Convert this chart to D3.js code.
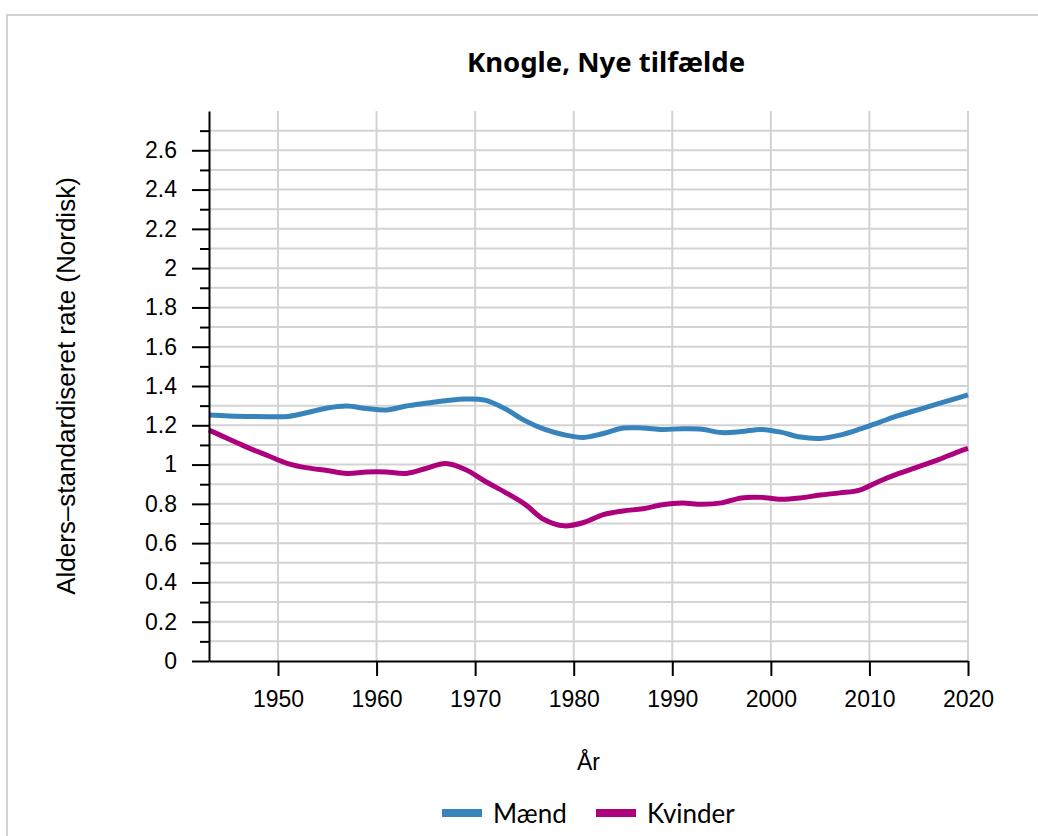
<!DOCTYPE html>
<head>
  <meta charset="utf-8">
  <script src="https://d3js.org/d3.v7.min.js"></script>
  <style>
    body { margin:0; background:#fff; }
    .grid line { stroke:#d3d3d3; stroke-width:2px; }
    .axis path, .axis line { stroke:#000; stroke-width:2px; }
    .axis text { font-family:"Liberation Sans", Arial, sans-serif; font-size:23px; fill:#000; }
    .line { fill:none; stroke-width:5px; }
  </style>
</head>
<body>
<script>

  // data
  var years = [1943,1945,1947,1949,1951,1953,1955,1957,1959,1961,1963,1965,1967,1969,1971,1973,1975,1977,1979,1981,
               1983,1985,1987,1989,1991,1993,1995,1997,1999,2001,2003,2005,2007,2009,2011,2013,2015,2017,2019,2020];
  var maend = [1.252,1.247,1.245,1.244,1.245,1.265,1.288,1.298,1.285,1.278,1.298,1.312,1.325,1.334,1.328,1.285,1.225,1.180,1.152,1.138,
               1.158,1.186,1.186,1.179,1.182,1.180,1.163,1.168,1.179,1.165,1.140,1.133,1.150,1.180,1.215,1.250,1.280,1.310,1.340,1.355];
  var kvinder = [1.176,1.130,1.085,1.045,1.005,0.983,0.970,0.955,0.962,0.962,0.955,0.980,1.005,0.975,0.915,0.860,0.800,0.720,0.688,0.705,
                 0.745,0.764,0.775,0.795,0.804,0.798,0.805,0.830,0.833,0.823,0.830,0.845,0.856,0.870,0.915,0.955,0.990,1.025,1.065,1.082];
  var seriesNames = ["Mænd", "Kvinder"];
  var colors = ["#3784bc", "#ac007d"];
  var xTicks = [1950,1960,1970,1980,1990,2000,2010,2020];
  var title = "Knogle, Nye tilfælde";
  var xLabel = "År";
  var yLabel = "Alders–standardiseret rate (Nordisk)";

  var W = 1038, H = 836;
  var margin = {top: 111, right: 70, bottom: 175, left: 209};
  var width = W - margin.left - margin.right,
      height = H - margin.top - margin.bottom;

  var svg = d3.select("body").append("svg")
    .attr("width", W)
    .attr("height", H);

  // frame
  svg.append("path")
    .attr("d", "M7," + H + "V15H" + W)
    .attr("fill", "none")
    .attr("stroke", "#d3d3d3")
    .attr("stroke-width", 2);

  var g = svg.append("g")
    .attr("transform", "translate(" + margin.left + "," + margin.top + ")");

  var x = d3.scaleLinear().domain([1943, 2020]).range([0, width]);
  var y = d3.scaleLinear().domain([0, 2.8]).range([height, 0]);

  var minor = d3.range(1, 28).map(function(d) { return d / 10; });
  var major = d3.range(0, 14).map(function(d) { return d / 5; });

  // grid
  g.append("g").attr("class", "grid")
    .selectAll("line").data(minor).enter().append("line")
    .attr("x1", 0).attr("x2", width)
    .attr("y1", function(d) { return y(d); })
    .attr("y2", function(d) { return y(d); });

  g.append("g").attr("class", "grid")
    .selectAll("line").data(xTicks).enter().append("line")
    .attr("x1", function(d) { return x(d); })
    .attr("x2", function(d) { return x(d); })
    .attr("y1", 0).attr("y2", height);

  // lines
  var data = [maend, kvinder].map(function(vals) {
    return vals.map(function(v, i) { return {year: years[i], value: v}; });
  });

  var line = d3.line()
    .curve(d3.curveCatmullRom)
    .x(function(d) { return x(d.year); })
    .y(function(d) { return y(d.value); });

  g.selectAll(".line").data(data).enter()
    .append("path")
    .attr("class", "line")
    .attr("d", line)
    .attr("stroke", function(d, i) { return colors[i]; });

  // y axis, minor ticks then major ticks with labels
  g.append("g").attr("class", "axis")
    .call(d3.axisLeft(y).tickValues(minor.filter(function(d, i) { return i % 2 == 0; }))
      .tickSize(9).tickFormat(""))
    .select(".domain").remove();

  g.append("g").attr("class", "axis")
    .call(d3.axisLeft(y).tickValues(major).tickSize(17).tickSizeOuter(0).tickPadding(15)
      .tickFormat(function(d) { return d3.format("")(+d.toFixed(1)); }));

  g.append("g").attr("class", "axis")
    .attr("transform", "translate(0," + height + ")")
    .call(d3.axisBottom(x).tickValues(xTicks).tickSize(15).tickSizeOuter(0).tickPadding(15)
      .tickFormat(d3.format("d")));

  // texts
  svg.append("text")
    .attr("x", 606).attr("y", 72)
    .attr("text-anchor", "middle")
    .attr("font-family", "'Noto Sans', sans-serif")
    .attr("font-weight", "bold")
    .attr("font-size", 27.5)
    .text(title);

  svg.append("text")
    .attr("x", margin.left + width / 2).attr("y", 770)
    .attr("text-anchor", "middle")
    .attr("font-family", "Liberation Sans, Arial, sans-serif")
    .attr("font-size", 23)
    .text(xLabel);

  svg.append("text")
    .attr("transform", "translate(75," + (margin.top + height / 2) + ") rotate(-90)")
    .attr("text-anchor", "middle")
    .attr("font-family", "Liberation Sans, Arial, sans-serif")
    .attr("font-size", 26)
    .text(yLabel);

  // legend
  var legX = [442, 596];
  var legend = svg.selectAll(".legend").data(seriesNames).enter()
    .append("g").attr("class", "legend")
    .attr("transform", function(d, i) { return "translate(" + legX[i] + ",813)"; });

  legend.append("rect")
    .attr("x", 0).attr("y", -4)
    .attr("width", 40).attr("height", 8)
    .attr("fill", function(d, i) { return colors[i]; });

  legend.append("text")
    .attr("x", 51).attr("y", 10)
    .attr("font-family", "Lato, sans-serif")
    .attr("font-size", 26)
    .text(function(d) { return d; });

</script>
</body>
